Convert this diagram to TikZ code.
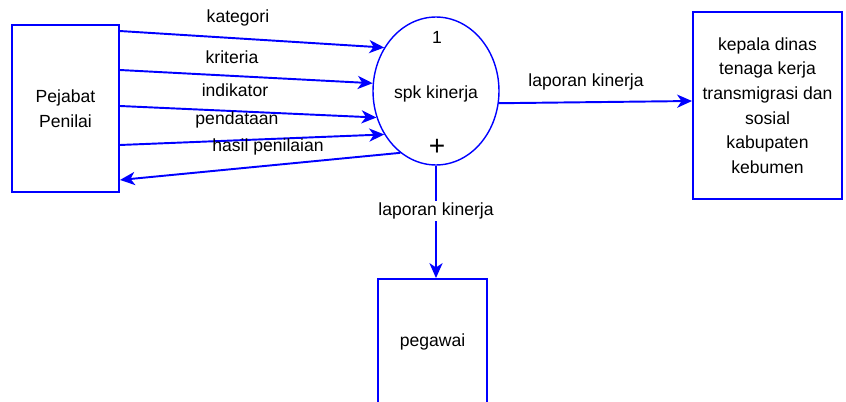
\documentclass[tikz,border=0pt]{standalone}
\usepackage{fontspec}
\setmainfont{Liberation Sans}
\usetikzlibrary{shapes.geometric,arrows.meta}

\begin{document}
\begin{tikzpicture}[x=0.02cm,y=-0.02cm,
  ent/.style={draw=blue,line width=1.1pt,fill=white,align=center,inner sep=0pt,font=\fontsize{10}{14}\selectfont},
  flow/.style={draw=blue,line width=1.1pt,-{Stealth[length=8.5pt,width=7.5pt,inset=2.5pt]}},
  lbl/.style={inner sep=1pt,font=\fontsize{10}{12}\selectfont}]
\clip (0,0) rectangle (846,402);
% entities and process
\node[ent,minimum width=2.14cm,minimum height=3.34cm] (pejabat) at (65.5,108.5) {Pejabat\\Penilai};
\node[ent,ellipse,line width=0.8pt,minimum width=2.52cm,minimum height=2.96cm] (spk) at (436,91) {};
\node[lbl] (spk_num) at (437,37) {1};
\node[lbl] (spk_name) at (436,94) {spk kinerja};
\node[lbl,font=\fontsize{16}{16}\selectfont] (spk_plus) at (437,147) {+};
\node[ent,minimum width=2.98cm,minimum height=3.74cm] (kepala) at (767.5,105.5) {kepala dinas\\tenaga kerja\\transmigrasi dan\\sosial\\kabupaten\\kebumen};
\node[ent,minimum width=2.18cm,minimum height=2.52cm] (pegawai) at (432.5,342) {pegawai};
% flows from pejabat penilai
\draw[flow] ([yshift=1.55cm]pejabat.east) -- (spk.140); % kategori
\draw[flow] ([yshift=0.77cm]pejabat.east) -- (spk.173); % kriteria
\draw[flow] ([yshift=0.05cm]pejabat.east) -- (spk.204); % indikator
\draw[flow] ([yshift=-0.73cm]pejabat.east) -- (spk.220); % pendataan
\draw[flow] (spk.240) -- ([yshift=-1.43cm]pejabat.east); % hasil penilaian
\node[lbl] (lbl_kategori) at (238,18) {kategori};
\node[lbl] (lbl_kriteria) at (232,57) {kriteria};
\node[lbl] (lbl_indikator) at (235,90) {indikator};
\node[lbl] (lbl_pendataan) at (237,120) {pendataan};
\node[lbl] (lbl_hasil) at (268,147) {hasil penilaian};
% laporan kinerja
\draw[flow] (spk.349) -- ([yshift=0.09cm]kepala.west);
\node[lbl] (lbl_lap1) at (586,82) {laporan kinerja};
\draw[flow] (spk.south) -- (spk.south |- pegawai.north);
\node[lbl,fill=white] (lbl_lap2) at (436,211) {laporan kinerja};
\end{tikzpicture}
\end{document}
